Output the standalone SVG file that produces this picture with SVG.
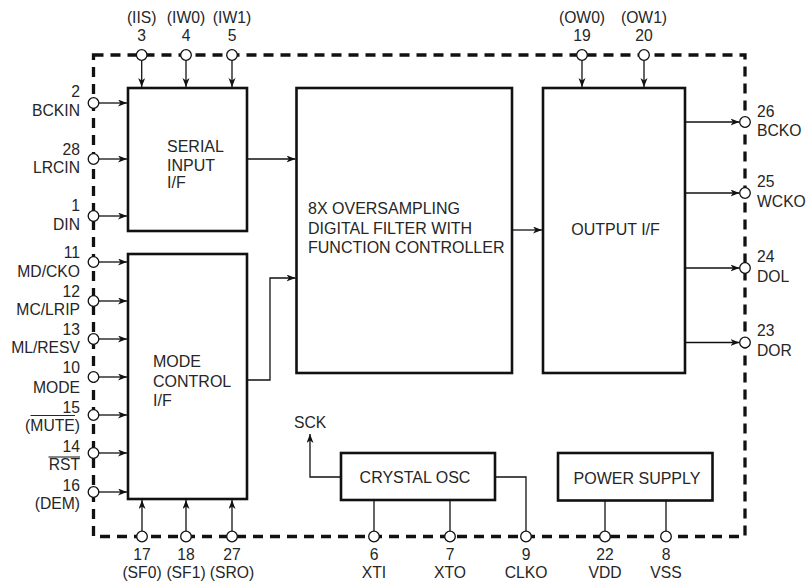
<svg xmlns="http://www.w3.org/2000/svg" width="808" height="586" viewBox="0 0 808 586">
<defs>
<marker id="ah" markerWidth="10" markerHeight="8" refX="9" refY="3.5" orient="auto" markerUnits="userSpaceOnUse">
<path d="M0,0 L9,3.5 L0,7 L2.5,3.5 z" fill="#111"/>
</marker>
</defs>
<style>
text{font-family:"Liberation Sans",Arial,sans-serif;font-size:15.7px;fill:#262626}
.bt{font-size:16px}
.e{text-anchor:end}
.m{text-anchor:middle}
.box{fill:#fff;stroke:#111;stroke-width:2.6}
.pin{fill:#fff;stroke:#111;stroke-width:1.3}
.w{fill:none;stroke:#111;stroke-width:1.3}
.a{fill:none;stroke:#111;stroke-width:1.3;marker-end:url(#ah)}
.bar{stroke:#262626;stroke-width:1.1}
.border{fill:none;stroke:#111;stroke-width:3.3;stroke-dasharray:10 7}
</style>
<rect width="808" height="586" fill="#fff"/>
<rect id="border" class="border" x="93.5" y="55" width="651.5" height="481.5"/>

<g id="connectors">
<line class="a" x1="141.7" y1="60.5" x2="141.7" y2="87"/>
<line class="a" x1="186" y1="60.5" x2="186" y2="87"/>
<line class="a" x1="232" y1="60.5" x2="232" y2="87"/>
<line class="a" x1="582" y1="60.5" x2="582" y2="87"/>
<line class="a" x1="644" y1="60.5" x2="644" y2="87"/>
<line class="a" x1="99" y1="103" x2="127" y2="103"/>
<line class="a" x1="99" y1="159" x2="127" y2="159"/>
<line class="a" x1="99" y1="216" x2="127" y2="216"/>
<line class="a" x1="99" y1="262" x2="127" y2="262"/>
<line class="a" x1="99" y1="301" x2="127" y2="301"/>
<line class="a" x1="99" y1="339" x2="127" y2="339"/>
<line class="a" x1="99" y1="377" x2="127" y2="377"/>
<line class="a" x1="99" y1="415" x2="127" y2="415"/>
<line class="a" x1="99" y1="453" x2="127" y2="453"/>
<line class="a" x1="99" y1="492" x2="127" y2="492"/>
<line class="a" x1="142" y1="531" x2="142" y2="500"/>
<line class="a" x1="186" y1="531" x2="186" y2="500"/>
<line class="a" x1="232" y1="531" x2="232" y2="500"/>
<line class="a" x1="247" y1="159" x2="295.5" y2="159"/>
<polyline class="a" points="247,380 270,380 270,278 295.5,278"/>
<line class="a" x1="512" y1="230" x2="542" y2="230"/>
<line class="a" x1="685" y1="122" x2="739.5" y2="122"/>
<line class="a" x1="685" y1="193" x2="739.5" y2="193"/>
<line class="a" x1="685" y1="268" x2="739.5" y2="268"/>
<line class="a" x1="685" y1="342.5" x2="739.5" y2="342.5"/>
<polyline class="a" points="341,477 310,477 310,434"/>
<polyline class="w" points="495,477 526,477 526,531"/>
<line class="w" x1="374" y1="500" x2="374" y2="531"/>
<line class="w" x1="450" y1="500" x2="450" y2="531"/>
<line class="w" x1="605" y1="500.5" x2="605" y2="531"/>
<line class="w" x1="666" y1="500.5" x2="666" y2="531"/>
</g>

<g id="serial-input">
<rect class="box" x="128" y="88" width="119" height="143"/>
<text class="bt" x="167" y="152">SERIAL</text>
<text class="bt" x="167" y="171">INPUT</text>
<text class="bt" x="167" y="188">I/F</text>
</g>
<g id="mode-control">
<rect class="box" x="128" y="254" width="119" height="245"/>
<text class="bt" x="153" y="367">MODE</text>
<text class="bt" x="153" y="387">CONTROL</text>
<text class="bt" x="153" y="406">I/F</text>
</g>
<g id="digital-filter">
<rect class="box" x="296.5" y="88" width="215.5" height="285"/>
<text class="bt" x="308" y="214">8X OVERSAMPLING</text>
<text class="bt" x="308" y="234">DIGITAL FILTER WITH</text>
<text class="bt" x="308" y="253">FUNCTION CONTROLLER</text>
</g>
<g id="output-if">
<rect class="box" x="543" y="88" width="142" height="285"/>
<text class="bt m" x="615.5" y="235">OUTPUT I/F</text>
</g>
<g id="crystal-osc">
<rect class="box" x="341" y="453" width="154" height="47"/>
<text class="bt m" x="415" y="483">CRYSTAL OSC</text>
<text x="294" y="428">SCK</text>
</g>
<g id="power-supply">
<rect class="box" x="558" y="453" width="154.5" height="47.5"/>
<text class="bt m" x="637" y="484">POWER SUPPLY</text>
</g>

<g id="pins-top">
<circle class="pin" cx="141.7" cy="55" r="5.3"/>
<circle class="pin" cx="186" cy="55" r="5.3"/>
<circle class="pin" cx="232" cy="55" r="5.3"/>
<circle class="pin" cx="582" cy="55" r="5.3"/>
<circle class="pin" cx="644" cy="55" r="5.3"/>
<text class="m" x="141.7" y="23">(IIS)</text><text class="m" x="141.7" y="41">3</text>
<text class="m" x="186" y="23">(IW0)</text><text class="m" x="186" y="41">4</text>
<text class="m" x="232" y="23">(IW1)</text><text class="m" x="232" y="41">5</text>
<text class="m" x="582" y="23">(OW0)</text><text class="m" x="582" y="41">19</text>
<text class="m" x="644" y="23">(OW1)</text><text class="m" x="644" y="41">20</text>
</g>

<g id="pins-left">
<circle class="pin" cx="93.5" cy="103" r="5.3"/>
<circle class="pin" cx="93.5" cy="159" r="5.3"/>
<circle class="pin" cx="93.5" cy="216" r="5.3"/>
<circle class="pin" cx="93.5" cy="262" r="5.3"/>
<circle class="pin" cx="93.5" cy="301" r="5.3"/>
<circle class="pin" cx="93.5" cy="339" r="5.3"/>
<circle class="pin" cx="93.5" cy="377" r="5.3"/>
<circle class="pin" cx="93.5" cy="415" r="5.3"/>
<circle class="pin" cx="93.5" cy="453" r="5.3"/>
<circle class="pin" cx="93.5" cy="492" r="5.3"/>
<text class="e" x="80" y="97">2</text><text class="e" x="80" y="116">BCKIN</text>
<text class="e" x="80" y="155">28</text><text class="e" x="80" y="173">LRCIN</text>
<text class="e" x="80" y="211">1</text><text class="e" x="80" y="230">DIN</text>
<text class="e" x="80" y="258">11</text><text class="e" x="80" y="277">MD/CKO</text>
<text class="e" x="80" y="297">12</text><text class="e" x="80" y="315">MC/LRIP</text>
<text class="e" x="80" y="335">13</text><text class="e" x="80" y="353">ML/RESV</text>
<text class="e" x="80" y="373">10</text><text class="e" x="80" y="393">MODE</text>
<text class="e" x="80" y="413">15</text><text class="e" x="80" y="431">(MUTE)</text>
<text class="e" x="80" y="452">14</text><text class="e" x="80" y="470">RST</text>
<text class="e" x="80" y="491">16</text><text class="e" x="80" y="509">(DEM)</text>
<line class="bar" x1="30.5" y1="415.5" x2="75" y2="415.5"/>
<line class="bar" x1="48.5" y1="457" x2="80" y2="457"/>
</g>

<g id="pins-right">
<circle class="pin" cx="745" cy="122" r="5.3"/>
<circle class="pin" cx="745" cy="193" r="5.3"/>
<circle class="pin" cx="745" cy="268" r="5.3"/>
<circle class="pin" cx="745" cy="342.5" r="5.3"/>
<text x="757" y="117">26</text><text x="757" y="136">BCKO</text>
<text x="757" y="187">25</text><text x="757" y="207">WCKO</text>
<text x="757" y="262">24</text><text x="757" y="282">DOL</text>
<text x="757" y="336">23</text><text x="757" y="356">DOR</text>
</g>

<g id="pins-bottom">
<circle class="pin" cx="142" cy="536.5" r="5.3"/>
<circle class="pin" cx="186" cy="536.5" r="5.3"/>
<circle class="pin" cx="232" cy="536.5" r="5.3"/>
<circle class="pin" cx="374" cy="536.5" r="5.3"/>
<circle class="pin" cx="450" cy="536.5" r="5.3"/>
<circle class="pin" cx="526" cy="536.5" r="5.3"/>
<circle class="pin" cx="605" cy="536.5" r="5.3"/>
<circle class="pin" cx="666" cy="536.5" r="5.3"/>
<text class="m" x="142" y="560">17</text><text class="m" x="142" y="578">(SF0)</text>
<text class="m" x="186" y="560">18</text><text class="m" x="186" y="578">(SF1)</text>
<text class="m" x="232" y="560">27</text><text class="m" x="232" y="578">(SRO)</text>
<text class="m" x="374" y="560">6</text><text class="m" x="374" y="578">XTI</text>
<text class="m" x="450" y="560">7</text><text class="m" x="450" y="578">XTO</text>
<text class="m" x="526" y="560">9</text><text class="m" x="526" y="578">CLKO</text>
<text class="m" x="605" y="560">22</text><text class="m" x="605" y="578">VDD</text>
<text class="m" x="666" y="560">8</text><text class="m" x="666" y="578">VSS</text>
</g>
</svg>
